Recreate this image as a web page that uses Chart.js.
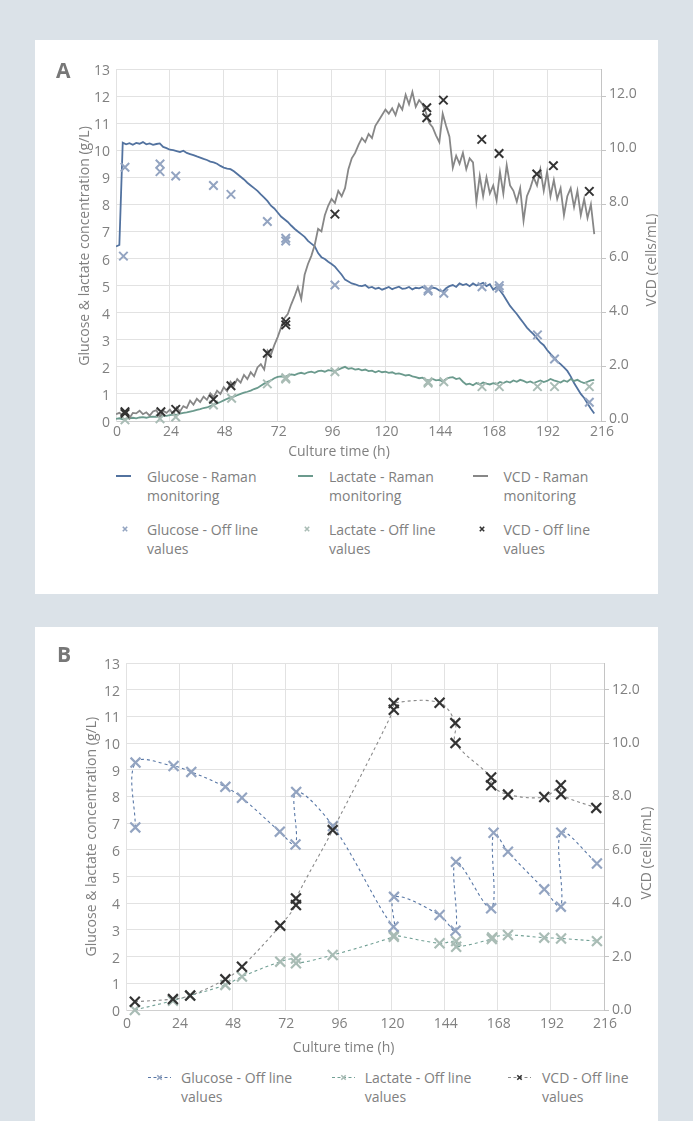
<!DOCTYPE html>
<html><head><meta charset="utf-8">
<script src="https://cdn.jsdelivr.net/npm/chart.js@4.4.1/dist/chart.umd.min.js"></script>
<style>
html,body{margin:0;padding:0;}
body{width:693px;height:1121px;background:#dbe2e8;position:relative;overflow:hidden;font-family:'Open Sans',sans-serif;}
.panel{position:absolute;background:#fff;}
.panel canvas{position:absolute;left:0;top:0;}
.lg{position:absolute;font-size:14px;line-height:19px;color:#808080;white-space:nowrap;}
.sym{position:absolute;display:block;}
</style></head><body>
<div class="panel" id="panelA" style="left:35px;top:40px;width:623px;height:554px;">
<canvas id="chartA" width="623" height="420"></canvas></div>
<div class="panel" id="panelB" style="left:35px;top:627px;width:623px;height:494px;">
<canvas id="chartB" width="623" height="440"></canvas></div>
<script>
// ---------- DATA ----------
const xTicksLabelTitle = 'Culture time (h)';
const leftTitle = 'Glucose & lactate concentration (g/L)';
const rightTitle = 'VCD (cells/mL)';

// Chart A: Raman monitoring (time in h)
const ramanTime = [
0,1.5,3,4.5,6,7.5,9,10.5,12,13.5,
15,16.5,18,19.5,21,22.5,24,25.5,27,28.5,
30,31.5,33,34.5,36,37.5,39,40.5,42,43.5,
45,46.5,48,49.5,51,52.5,54,55.5,57,58.5,
60,61.5,63,64.5,66,67.5,69,70.5,72,73.5,
75,76.5,78,79.5,81,82.5,84,85.5,87,88.5,
90,91.5,93,94.5,96,97.5,99,100.5,102,103.5,
105,106.5,108,109.5,111,112.5,114,115.5,117,118.5,
120,121.5,123,124.5,126,127.5,129,130.5,132,133.5,
135,136.5,138,139.5,141,142.5,144,145.5,147,148.5,
150,151.5,153,154.5,156,157.5,159,160.5,162,163.5,
165,166.5,168,169.5,171,172.5,174,175.5,177,178.5,
180,181.5,183,184.5,186,187.5,189,190.5,192,193.5,
195,196.5,198,199.5,201,202.5,204,205.5,207,208.5,
210,211.5,213];

const glucoseRaman = [
6.45,6.5,10.28,10.22,10.26,10.2,10.27,10.24,10.3,10.22,
10.25,10.2,10.23,10.25,10.12,10.08,10.02,10.0,9.97,9.93,
9.98,9.9,9.86,9.82,9.77,9.73,9.68,9.64,9.58,9.55,
9.5,9.42,9.36,9.32,9.3,9.22,9.12,9.02,8.92,8.8,
8.7,8.6,8.5,8.37,8.25,8.12,7.95,7.85,7.7,7.55,
7.45,7.35,7.22,7.1,7.0,6.9,6.8,6.65,6.55,6.45,
6.2,6.05,5.98,5.88,5.8,5.7,5.55,5.4,5.22,5.15,
5.08,5.05,5.0,4.98,5.02,4.92,4.95,4.88,4.92,4.85,
4.9,4.95,4.87,4.92,4.96,4.88,4.9,4.95,4.86,4.92,
4.9,4.95,4.88,4.85,4.93,4.9,4.82,4.78,4.9,4.98,
5.02,4.95,5.08,5.02,5.06,4.98,5.08,5.0,5.05,5.1,
4.98,5.05,4.85,4.95,4.82,4.65,4.45,4.25,4.1,3.95,
3.78,3.62,3.45,3.32,3.2,3.05,2.9,2.8,2.62,2.48,
2.35,2.2,2.1,1.98,1.85,1.65,1.4,1.2,1.0,0.85,
0.65,0.45,0.28];

const lactateRaman = [
0.08,0.1,0.06,0.09,0.1,0.12,0.1,0.13,0.14,0.12,
0.15,0.16,0.15,0.18,0.2,0.19,0.22,0.24,0.23,0.27,
0.3,0.32,0.35,0.37,0.41,0.44,0.48,0.5,0.55,0.6,
0.65,0.7,0.76,0.82,0.87,0.9,0.95,1.0,1.05,1.08,
1.12,1.18,1.22,1.3,1.38,1.45,1.5,1.58,1.63,1.65,
1.62,1.68,1.72,1.7,1.75,1.78,1.74,1.8,1.82,1.78,
1.84,1.86,1.82,1.88,1.86,1.84,1.9,1.95,2.0,1.93,
1.95,1.9,1.92,1.87,1.9,1.84,1.86,1.8,1.85,1.8,
1.82,1.78,1.8,1.74,1.76,1.72,1.68,1.7,1.65,1.62,
1.58,1.6,1.52,1.5,1.55,1.5,1.52,1.46,1.55,1.6,
1.62,1.55,1.58,1.45,1.35,1.38,1.32,1.4,1.35,1.42,
1.38,1.35,1.4,1.36,1.44,1.4,1.46,1.42,1.5,1.45,
1.52,1.48,1.42,1.46,1.4,1.45,1.5,1.44,1.48,1.55,
1.5,1.46,1.42,1.5,1.45,1.55,1.48,1.52,1.45,1.4,
1.45,1.5,1.52];

const vcdRaman = [
0.25,0.3,0.22,0.35,0.1,0.3,0.28,0.38,0.25,0.32,
0.2,0.35,0.4,0.15,0.38,0.3,0.42,0.25,0.5,0.35,
0.55,0.48,0.75,0.6,0.82,0.7,0.9,0.78,1.02,0.88,
1.12,1.0,1.25,1.1,1.45,1.3,1.55,1.42,1.7,1.55,
1.8,1.65,1.98,2.1,1.9,2.6,2.45,2.8,3.1,3.45,
3.8,3.95,4.3,4.6,4.95,4.5,5.4,5.8,6.1,6.5,
7.1,7.0,7.6,7.95,8.2,8.05,8.5,8.3,8.6,9.3,
9.7,9.9,10.2,10.45,10.3,10.6,10.45,10.9,11.1,11.3,
11.5,11.35,11.55,11.3,11.7,11.5,12.05,11.7,12.15,11.6,
11.85,11.7,11.4,11.0,10.85,10.55,10.3,11.35,10.9,10.5,
9.35,9.8,9.5,9.9,9.3,9.7,9.55,8.1,9.05,8.3,
9.0,8.4,8.7,8.15,9.2,8.4,9.45,8.7,8.5,8.1,
8.6,7.4,8.3,8.6,9.0,8.7,9.3,8.5,9.2,8.3,
8.9,8.2,8.6,7.6,8.3,8.6,7.9,8.5,7.6,8.2,
7.5,8.0,6.9];

// Chart A: off-line values
const glucoseOffA_t = [3.3,4.0,19.6,19.6,26.6,43.4,51.2,67.4,75.6,75.6,97.5,139.0,139.0,146.0,163.0,170.7,170.7,187.7,195.3,210.8];
const glucoseOffA   = [6.09,9.37,9.49,9.21,9.05,8.7,8.37,7.37,6.75,6.65,5.02,4.86,4.8,4.72,4.96,5.0,4.9,3.18,2.29,0.69];
const lactateOffA_t = [4.0,19.6,26.6,43.4,51.5,67.4,75.6,75.6,97.5,139.0,139.0,146.0,163.0,170.7,187.7,195.3,210.8];
const lactateOffA   = [0.04,0.08,0.15,0.59,0.84,1.37,1.6,1.55,1.82,1.45,1.4,1.45,1.27,1.27,1.27,1.27,1.27];
const vcdOffA_t = [4.0,4.0,20.0,26.6,43.4,51.2,67.4,75.6,75.6,97.5,138.4,138.4,145.8,162.9,170.6,187.4,194.8,210.8];
const vcdOffA   = [0.34,0.28,0.34,0.43,0.8,1.3,2.5,3.67,3.55,7.64,11.57,11.2,11.85,10.4,9.88,9.12,9.43,8.48];

// Chart B: off-line values
const glucoseB_t = [4.2,4.3,21.5,29.5,44.9,52.4,69.5,76.6,76.9,93.5,120.9,121.1,141.7,148.9,149.1,165.0,166.1,172.6,189.0,196.5,196.7,212.8];
const glucoseB   = [6.84,9.27,9.14,8.92,8.36,7.95,6.68,6.2,8.17,6.89,3.12,4.24,3.56,2.97,5.55,3.81,6.64,5.93,4.52,3.87,6.64,5.49];
const lactateB_t = [4.0,21.2,29.0,44.9,52.4,69.7,76.8,76.8,93.4,121.0,121.0,141.7,149.2,149.2,165.3,165.5,172.6,189.0,196.6,212.8];
const lactateB   = [0.0,0.35,0.54,0.94,1.25,1.81,1.93,1.75,2.06,2.74,2.8,2.5,2.58,2.37,2.66,2.72,2.81,2.71,2.68,2.58];
const vcdB_t = [4.0,21.2,29.0,44.9,52.4,69.7,76.8,76.8,93.4,121.0,121.0,141.7,148.8,148.9,165.0,165.0,172.6,189.0,196.5,196.6,212.5];
const vcdB   = [0.31,0.41,0.54,1.15,1.62,3.16,3.93,4.18,6.74,11.25,11.5,11.51,10.75,10.0,8.71,8.42,8.07,7.98,8.42,8.08,7.57];

const legendLabelsA = [
  ['Glucose - Raman','monitoring'], ['Lactate - Raman','monitoring'], ['VCD - Raman','monitoring'],
  ['Glucose - Off line','values'], ['Lactate - Off line','values'], ['VCD - Off line','values']];
const legendLabelsB = [['Glucose - Off line','values'], ['Lactate - Off line','values'], ['VCD - Off line','values']];

// ---------- STYLE ----------
const C = {
  gluLine:'#52729f', lacLine:'#6b9a8d', vcdLine:'#878787',
  gluMk:'#93a4c1', lacMk:'#a9bcb5', vcdMk:'#333333',
  gluDash:'#5877a6', lacDash:'#72a095', vcdDash:'#8a8a8a',
  text:'#808080', grid:'#e2e2e2'
};
Chart.defaults.font.family = "'Open Sans', sans-serif";
Chart.defaults.font.size = 14;
Chart.defaults.color = C.text;

const pts = (xs, ys) => xs.map((x, i) => ({x: x, y: ys[i]}));

const panelText = {
  id: 'panelText',
  afterDraw(chart, args, o) {
    const c = chart.ctx; c.save();
    c.fillStyle = C.text; c.font = "14px 'Open Sans'"; c.textAlign = 'center'; c.textBaseline = 'middle';
    const vt = (t, x, y) => { c.save(); c.translate(x, y); c.rotate(-Math.PI / 2); c.fillText(t, 0, 0); c.restore(); };
    vt(o.leftTitle, o.lx, o.ly);
    vt(o.rightTitle, o.rx, o.ry);
    c.fillText(o.xTitle, o.xx, o.xy);
    c.font = "bold 21px 'Open Sans'"; c.fillStyle = '#777'; c.textAlign = 'left'; c.textBaseline = 'alphabetic';
    c.fillText(o.tag, o.tx, o.ty);
    c.restore();
  }
};

function makeOptions(cfg) {
  return {
    responsive: false, animation: false, events: [],
    layout: {padding: {top: cfg.padTop, left: 0, right: 0, bottom: 0}},
    plugins: {legend: {display: false}, tooltip: {enabled: false}, panelText: cfg.text},
    scales: {
      x: {type: 'linear', min: 0, max: 216,
          ticks: {stepSize: 24, padding: cfg.xPad, color: C.text, labelOffset: 1},
          grid: {color: C.grid, drawTicks: false},
          border: {color: '#d0d0d0'},
          afterFit(s) { s.height = cfg.xH; }},
      y: {position: 'left', min: 0, max: 13,
          ticks: {stepSize: 1, padding: 6, color: C.text, labelOffset: 2},
          grid: {color: C.grid, drawTicks: false},
          border: {color: C.grid},
          afterFit(s) { s.width = cfg.yW; }},
      y2: {position: 'right', min: 0, max: 13,
          ticks: {stepSize: 2, includeBounds: false, padding: 3, color: C.text, labelOffset: cfg.y2Off,
                  callback: v => Number(v).toFixed(1)},
          grid: {drawOnChartArea: false, drawTicks: true, tickLength: 5, color: '#c4c4c4'},
          border: {color: '#c4c4c4'},
          afterFit(s) { s.width = cfg.y2W; }}
    }
  };
}

const mk = (label, xs, ys, color, axis, order, r) => ({
  label, data: pts(xs, ys), showLine: false, pointStyle: 'crossRot', pointRadius: r, pointHoverRadius: r,
  borderColor: color, backgroundColor: color, pointBorderWidth: 2, borderWidth: 2, yAxisID: axis, order, clip: false});
const ln = (label, xs, ys, color, axis, order) => ({
  label, data: pts(xs, ys), showLine: true, pointRadius: 0, pointHoverRadius: 0,
  borderColor: color, backgroundColor: color, borderWidth: 1.8, tension: 0, yAxisID: axis, order});

new Chart(document.getElementById('chartA'), {
  type: 'scatter',
  data: {datasets: [
    mk('Glucose - Off line values', glucoseOffA_t, glucoseOffA, C.gluMk, 'y', 1, 6),
    mk('Lactate - Off line values', lactateOffA_t, lactateOffA, C.lacMk, 'y', 1, 6),
    mk('VCD - Off line values', vcdOffA_t, vcdOffA, C.vcdMk, 'y2', 0, 6),
    ln('VCD - Raman monitoring', ramanTime, vcdRaman, C.vcdLine, 'y2', 3),
    ln('Lactate - Raman monitoring', ramanTime, lactateRaman, C.lacLine, 'y', 4),
    ln('Glucose - Raman monitoring', ramanTime, glucoseRaman, C.gluLine, 'y', 5)
  ]},
  options: makeOptions({padTop: 29, yW: 81, y2W: 57, xH: 39, xPad: 3, y2Off: -2,
    text: {leftTitle, rightTitle, xTitle: xTicksLabelTitle, lx: 50.5, ly: 206, rx: 616.7, ry: 220, xx: 304, xy: 412, tag: 'A', tx: 21, ty: 38}}),
  plugins: [panelText]
});

const dl = (label, xs, ys, lineColor, mkColor, axis, order) => ({
  label, data: pts(xs, ys), showLine: true, tension: 0.35, borderDash: [3, 3], borderWidth: 1.1,
  borderColor: lineColor, backgroundColor: mkColor, pointStyle: 'crossRot', pointRadius: 7, pointHoverRadius: 7,
  pointBorderColor: mkColor, pointBorderWidth: 2.2, yAxisID: axis, order, clip: false});

new Chart(document.getElementById('chartB'), {
  type: 'scatter',
  data: {datasets: [
    dl('VCD - Off line values', vcdB_t, vcdB, C.vcdDash, C.vcdMk, 'y2', 0),
    dl('Glucose - Off line values', glucoseB_t, glucoseB, C.gluDash, C.gluMk, 'y', 1),
    dl('Lactate - Off line values', lactateB_t, lactateB, C.lacDash, C.lacMk, 'y', 2)
  ]},
  options: makeOptions({padTop: 36, yW: 91, y2W: 54, xH: 57, xPad: 6, y2Off: 0,
    text: {leftTitle, rightTitle, xTitle: xTicksLabelTitle, lx: 57, ly: 209.7, rx: 612, ry: 226, xx: 308.6, xy: 421, tag: 'B', tx: 22, ty: 35}}),
  plugins: [panelText]
});

// ---------- LEGENDS (HTML text) ----------
const SVGNS = 'http://www.w3.org/2000/svg';
function addText(panel, lines, left, centerY) {
  const d = document.createElement('div'); d.className = 'lg';
  d.style.left = left + 'px'; d.style.top = (centerY - 9.5) + 'px';
  d.innerHTML = lines.map(s => s.replace(/&/g, '&amp;')).join('<br>');
  panel.appendChild(d);
}
function addSvg(panel, left, top, w, h, inner) {
  const s = document.createElementNS(SVGNS, 'svg');
  s.setAttribute('width', w); s.setAttribute('height', h); s.setAttribute('class', 'sym');
  s.style.left = left + 'px'; s.style.top = top + 'px'; s.innerHTML = inner; panel.appendChild(s);
}
const pA = document.getElementById('panelA'), pB = document.getElementById('panelB');
const lineColsA = [C.gluLine, C.lacLine, C.vcdLine], mkColsA = [C.gluMk, C.lacMk, C.vcdMk];
const symX = [81, 263, 438], txtX = [112, 294, 468.5];
for (let i = 0; i < 3; i++) {
  addSvg(pA, symX[i], 435, 15, 2, `<rect x="0" y="0" width="15" height="2" fill="${lineColsA[i]}"/>`);
  addText(pA, legendLabelsA[i], txtX[i], 436);
  addSvg(pA, symX[i] + 6, 486, 6, 6, `<path d="M0.8 0.8L5.2 5.2M5.2 0.8L0.8 5.2" stroke="${mkColsA[i]}" stroke-width="1.6"/>`);
  addText(pA, legendLabelsA[i + 3], txtX[i], 489);
}
const dashColsB = [C.gluDash, C.lacDash, C.vcdDash];
const symXB = [113, 297, 472.6], txtXB = [146, 329.7, 507];
for (let i = 0; i < 3; i++) {
  addSvg(pB, symXB[i], 445.5, 23, 9,
    `<line x1="0" y1="4.5" x2="23" y2="4.5" stroke="${dashColsB[i]}" stroke-width="1" stroke-dasharray="3,2.5"/>` +
    `<path d="M9.3 2.3L13.7 6.7M13.7 2.3L9.3 6.7" stroke="${mkColsA[i]}" stroke-width="1.6"/>`);
  addText(pB, legendLabelsB[i], txtXB[i], 450);
}
</script>
</body></html>
